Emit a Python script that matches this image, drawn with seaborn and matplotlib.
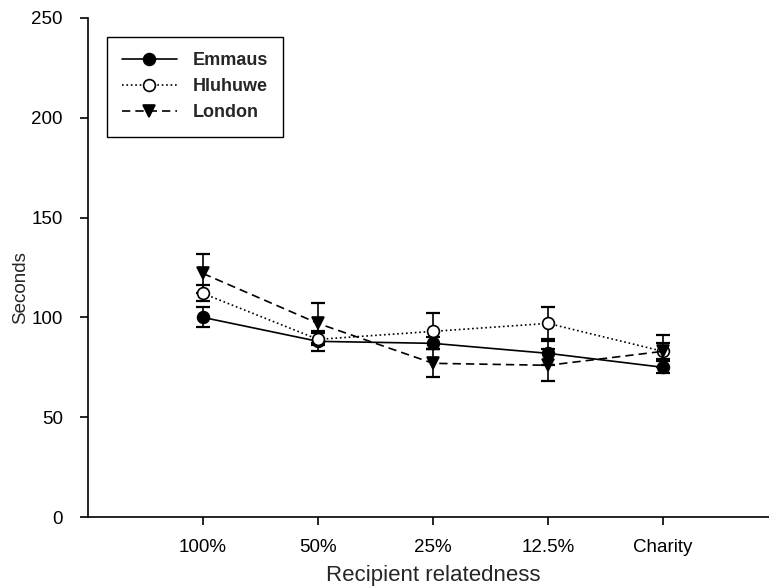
import matplotlib
matplotlib.use("Agg")
import matplotlib.pyplot as plt
import seaborn as sns
import pandas as pd
import numpy as np

categories = ["100%", "50%", "25%", "12.5%", "Charity"]
series = ["Emmaus", "Hluhuwe", "London"]
emmaus = [100, 88, 87, 82, 75]
emmaus_err = [5, 5, 3, 6, 3]
hluhuwe = [112, 89, 93, 97, 83]
hluhuwe_err = [4, 3, 9, 8, 4]
london = [122, 97, 77, 76, 83]
london_err = [10, 10, 7, 8, 8]

sns.set_style("ticks")
plt.rcParams["font.family"] = ["Liberation Sans", "DejaVu Sans"]

rows = []
for name, vals, errs in zip(series, [emmaus, hluhuwe, london], [emmaus_err, hluhuwe_err, london_err]):
    for i, (c, v, e) in enumerate(zip(categories, vals, errs)):
        rows.append({"pos": i, "cat": c, "series": name, "value": v, "err": e})
df = pd.DataFrame(rows)

fig = plt.figure(figsize=(7.69, 5.87), dpi=100)
ax = fig.add_axes([88 / 769, 1 - 517 / 587, (778 - 88) / 769, (517 - 18) / 587])

styles = {
    "Emmaus": dict(ls="-", marker="o", mfc="black"),
    "Hluhuwe": dict(ls=":", marker="o", mfc="white"),
    "London": dict(ls="dash", marker="v", mfc="black"),
}

for name in series:
    sub = df[df["series"] == name]
    st = styles[name]
    ax.errorbar(sub["pos"], sub["value"], yerr=sub["err"], fmt="none",
                ecolor="black", elinewidth=1.2, capsize=5, capthick=1.6, zorder=2)
    sns.lineplot(data=sub, x="pos", y="value", ax=ax, color="black",
                 linestyle=st["ls"] if st["ls"] != "dash" else "-",
                 marker=st["marker"], markersize=8.5, markerfacecolor=st["mfc"],
                 markeredgecolor="black", markeredgewidth=1.2, linewidth=1.2,
                 label=name, zorder=3, errorbar=None)
    if st["ls"] == "dash":
        ax.get_lines()[-1].set_dashes([5, 3])

ax.set_xlim(-1, 5)
ax.set_ylim(0, 250)
ax.set_xticks(range(len(categories)))
ax.set_xticklabels(categories)
ax.set_yticks([0, 50, 100, 150, 200, 250])
ax.tick_params(axis="both", labelsize=13.5, direction="out", length=6, width=1.2, colors="black")
ax.tick_params(axis="y", pad=12)
ax.tick_params(axis="x", pad=10)
ax.set_xlabel("Recipient relatedness", fontsize=16, labelpad=6)
ax.set_ylabel("Seconds", fontsize=13.5)
ax.yaxis.set_label_coords(-0.085, 0.46)
for s in ["top", "right"]:
    ax.spines[s].set_visible(False)
for s in ["left", "bottom"]:
    ax.spines[s].set_linewidth(1.2)
    ax.spines[s].set_color("black")

leg = ax.legend(loc="upper left", bbox_to_anchor=((107 - 88) / 690, 1 - (37 - 18) / 499),
                prop={"weight": "bold", "size": 13}, handlelength=3.0, frameon=True,
                fancybox=False, edgecolor="black", framealpha=1, borderpad=0.85,
                labelspacing=0.5, handletextpad=0.9, borderaxespad=0)
leg.get_frame().set_linewidth(1.0)

fig.savefig("out.png", dpi=100)
